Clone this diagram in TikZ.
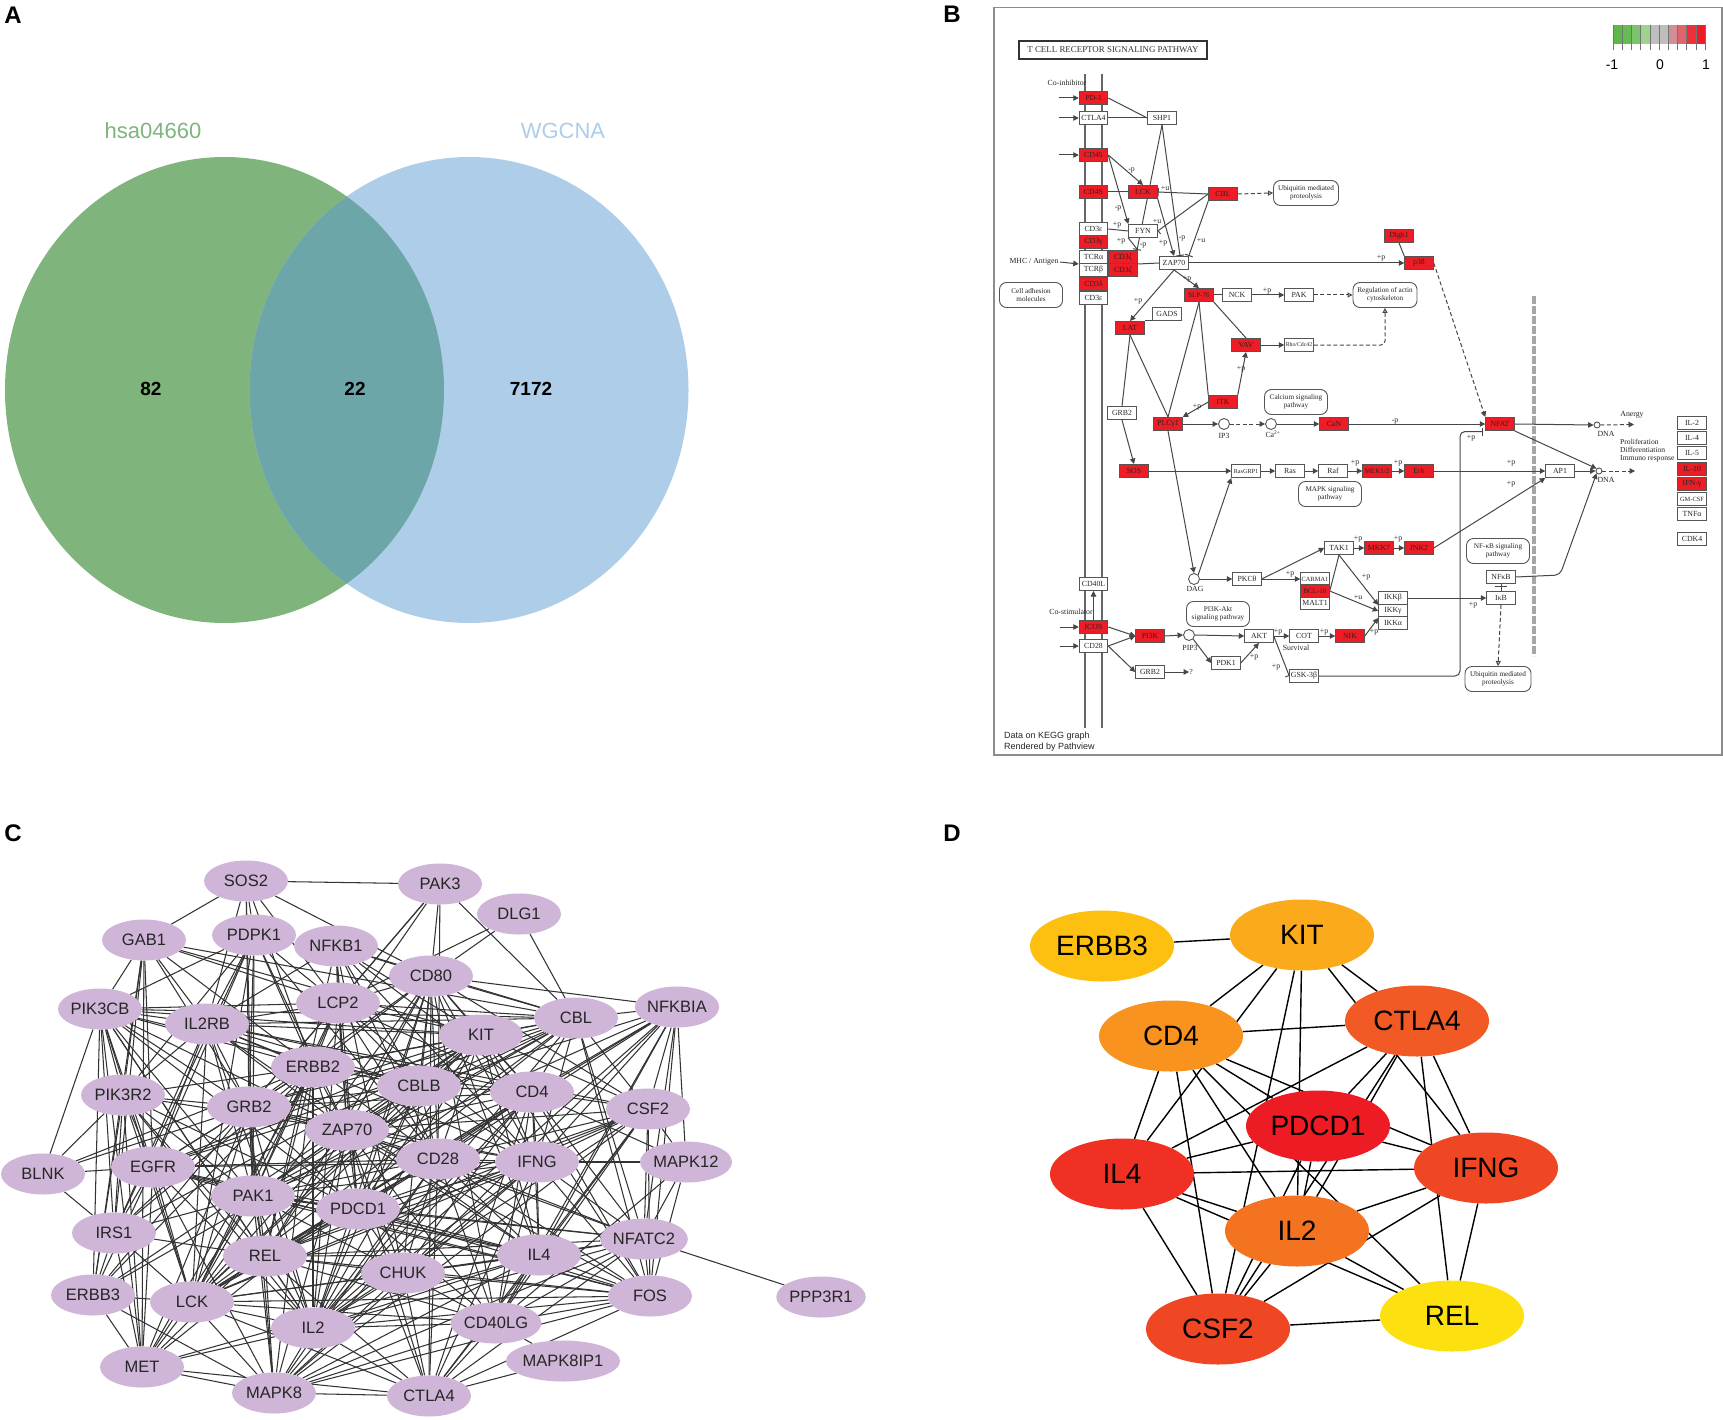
\documentclass[tikz,border=0pt]{standalone}
\usepackage{fontspec}
\setmainfont{Liberation Sans}
\newfontfamily\kfont{Liberation Serif}
\usetikzlibrary{arrows.meta,backgrounds,shapes.geometric}
\newcounter{lbn}
\newcommand\plab[2]{\stepcounter{lbn}\node[plabel] (lb\thelbn) at (#1) {#2};}
\definecolor{kgrey}{HTML}{555555}
\definecolor{kred}{HTML}{EE1C25}
\definecolor{cpink}{HTML}{CFB5D7}
\definecolor{vgreen}{HTML}{7FB47D}
\definecolor{vblue}{HTML}{AECDE9}
\definecolor{vmix}{HTML}{6CA6A8}
\definecolor{dA}{HTML}{FEC010}
\definecolor{dB}{HTML}{FBAA1C}
\definecolor{dC}{HTML}{F7931E}
\definecolor{dD}{HTML}{F15A24}
\definecolor{dE}{HTML}{ED1C24}
\definecolor{dF}{HTML}{EF4723}
\definecolor{dG}{HTML}{EF3023}
\definecolor{dH}{HTML}{F47320}
\definecolor{dI}{HTML}{FDE010}
\tikzset{
 panel/.style={font=\bfseries\fontsize{24}{24}\selectfont,inner sep=0pt},
 vlab/.style={font=\fontsize{22}{22}\selectfont,inner sep=0pt},
 vnum/.style={font=\bfseries\fontsize{19}{19}\selectfont,inner sep=0pt},
 knode/.style={draw=kgrey,fill=white,line width=1pt,minimum width=28.5pt,minimum height=13pt,inner sep=0pt,text=black!85,font=\kfont\fontsize{7.8}{7.8}\selectfont},
 kredn/.style={knode,fill=kred},
 kpath/.style={draw=kgrey,fill=white,line width=.9pt,rounded corners=7pt,minimum width=#1,minimum height=25pt,inner sep=0pt,align=center,text=black!85,font=\kfont\fontsize{7.2}{8}\selectfont},
 kcirc/.style={draw=kgrey,fill=white,line width=.9pt,circle,minimum size=#1,inner sep=0pt},
 plabel/.style={inner sep=0pt,text=black!85,font=\kfont\fontsize{7.8}{7.8}\selectfont},
 kline/.style={draw=black!72,line width=1pt},
 karrow/.style={kline,-{Triangle[length=5.5pt,width=5.5pt]}},
 kdash/.style={kline,dash pattern=on 4pt off 2.5pt,-{Triangle[length=5.5pt,width=5.5pt]}},
 kopen/.style={kline,dash pattern=on 4pt off 2.5pt,-{Triangle[open,fill=white,length=5pt,width=5pt]}},
 kbar/.style={kline,-{Bar[width=8pt]}},
 cnode/.style={ellipse,fill=cpink,minimum width=84pt,minimum height=41pt,inner sep=0pt,text=black!85,font=\fontsize{16.5}{16.5}\selectfont},
 cedge/.style={draw=black!80,line width=1.05pt},
 dnode/.style={ellipse,fill=#1,minimum width=144pt,minimum height=71pt,inner sep=0pt,font=\fontsize{28}{28}\selectfont},
 dedge/.style={draw=black,line width=1.4pt},
}
\begin{document}
\begin{tikzpicture}[x=1pt,y=-1pt]
\useasboundingbox (0,0) rectangle (1723,1420);
% panel letters
\node[panel] (pA) at (13,15) {A};
\node[panel] (pB) at (952,14) {B};
\node[panel] (pC) at (13,833) {C};
\node[panel] (pD) at (952,833) {D};
% ---------- A
\fill[vgreen] (224.5,390) ellipse [x radius=219.5,y radius=233];
\fill[vblue] (469,390) ellipse [x radius=219.5,y radius=233];
\begin{scope}
\clip (224.5,390) ellipse [x radius=219.5,y radius=233];
\fill[vmix] (469,390) ellipse [x radius=219.5,y radius=233];
\end{scope}
\node[vlab,text=vgreen] (vL) at (153,131) {hsa04660};
\node[vlab,text=vblue] (vR) at (563,131) {WGCNA};
\node[vnum] (n82) at (151,389) {82};
\node[vnum] (n22) at (355,389) {22};
\node[vnum] (n7172) at (531,389) {7172};
% ---------- B
\draw[draw=black!45,line width=1.6pt] (994,7.5) rectangle (1722,755);
\node[draw=black!80,line width=1.2pt,minimum width=188pt,minimum height=18pt,inner sep=0pt,font=\kfont\fontsize{8.9}{8.9}\selectfont,text=black!80] (ktitle) at (1113,50) {T CELL RECEPTOR SIGNALING PATHWAY};
\foreach \n/\x/\y/\t in {CTLA/1093.5/118/CTLA4,SHP/1162/118/SHP1,CDe/1093.5/229/CD3ε,FYN/1143/231/FYN,TCRa/1093.5/257/TCRα,TCRb/1093.5/270/TCRβ,ZAP/1174/263/ZAP70,CDeb/1093.5/298/CD3ε,NCK/1237/295/NCK,PAK/1299/295/PAK,GADS/1167/314/GADS,Rho/1299/345/{\fontsize{5.8}{6}\selectfont Rho/Cdc42},GRB/1122/413/GRB2,RasG/1246/471/{\fontsize{6.2}{6}\selectfont RasGRP1},Ras/1290/471/Ras,Raf/1333/471/Raf,TAK/1339/548/TAK1,PKC/1247/579/PKCθ,CARMA/1315/579/{\fontsize{6.4}{6}\selectfont CARMA1},MALT/1315/603/MALT1,CDL/1093.5/584/CD40L,CDt/1093.5/646/CD28,AKT/1259/636/AKT,COT/1304/636/COT,PDK/1226/663/PDK1,GRBb/1150/672/GRB2,GSK/1304/676/GSK-3β,IKKb/1393/598/IKKβ,IKKg/1393/611/IKKγ,IKKa/1393/623/IKKα,NFkB/1501/577/NFκB,IkB/1501/598/IκB,AP/1560/471/AP1,IL2/1692/423/IL-2,IL4/1692/438/IL-4,IL5/1692/453/IL-5,GM/1692/499/{\fontsize{6.4}{6}\selectfont GM-CSF},TNF/1692/514/TNFα,CDK/1692/539/CDK4}
  \node[knode] (k\n) at (\x,\y) {\t};
\foreach \n/\x/\y/\t in {PD/1093.5/98/PD-1,CDf/1093.5/155/CD45,CDs/1093.5/192/CD4S,LCK/1143/192/LCK,CBL/1223/194/CBL,CDg/1093.5/242/CD3γ,CDz/1123/257/CD3ζ,CDzb/1123/270/CD3ζ,CDd/1093.5/284/CD3δ,SLP/1199/295/{\fontsize{7}{7}\selectfont SLP-76},LAT/1130/328/LAT,VAV/1246/345/VAV,Dlg/1399/236/Dlgh1,p38/1419/263/p38,ITK/1223/402/ITK,PLC/1168/424/PLCγ1,CaN/1334/424/CaN,SOS/1134/471/SOS,MEK/1377/471/{\fontsize{7}{7}\selectfont MEK1/2},Erk/1419/471/Erk,MKK/1379/548/MKK7,JNK/1419/548/JNK2,BCL/1315/591/{\fontsize{7}{7}\selectfont BCL-10},ICOS/1093.5/627/ICOS,PIK/1150/636/PI3K,NIK/1350/636/NIK,NFAT/1500/424/NFAT,ILt/1692/469/IL-10,IFN/1692/484/IFN-γ}
  \node[kredn] (k\n) at (\x,\y) {\t};
\node[kpath=65pt] (kUb) at (1306,193) {Ubiquitin mediated\\proteolysis};
\node[kpath=63pt] (kCell) at (1031,295) {Cell adhesion\\molecules};
\node[kpath=64pt] (kReg) at (1385,295) {Regulation of actin\\cytoskeleton};
\node[kpath=63pt] (kCal) at (1296,402) {Calcium signaling\\pathway};
\node[kpath=63pt] (kMAPK) at (1330,494) {MAPK signaling\\pathway};
\node[kpath=63pt] (kPI) at (1218,614) {PI3K-Akt\\signaling pathway};
\node[kpath=63pt] (kNFp) at (1498,551) {NF-κB signaling\\pathway};
\node[kpath=66pt] (kUbb) at (1498,679) {Ubiquitin mediated\\proteolysis};
\node[kcirc=11pt] (kIP) at (1224,424) {};
\node[kcirc=11pt] (kCa) at (1271,424) {};
\node[kcirc=11pt] (kDAG) at (1194,579) {};
\node[kcirc=11pt] (kPIP) at (1189,635) {};
\node[kcirc=6pt] (kDNAa) at (1597,425) {};
\node[kcirc=6pt] (kDNAb) at (1599,471) {};
\coordinate (iPD) at (1059,98); \coordinate (iCT) at (1059,118); \coordinate (iCF) at (1059,155);
\coordinate (iMHC) at (1060,262); \coordinate (iIC) at (1060,627); \coordinate (iCD) at (1060,646);
\coordinate (oAn) at (1634,424.5); \coordinate (oPr) at (1635,471);
\node[plabel] (kq) at (1191,672) {?};
\plab{1067,83}{Co-inhibitor}
\plab{1071,612}{Co-stimulator}
\plab{1034,262}{MHC / Antigen}
\plab{1224,436}{IP3}
\plab{1273,434.5}{Ca\textsuperscript{2+}}
\plab{1195,589}{DAG}
\plab{1190,648}{PIP3}
\plab{1296,648}{Survival}
\plab{1606,434}{DNA}
\plab{1606,480}{DNA}
\plab{1632,415}{Anergy}
\node[plabel,align=left,anchor=west,font=\kfont\fontsize{7.6}{8.1}\selectfont] (kPro) at (1620,451) {Proliferation\\Differentiation\\Immuno response};
\plab{1131.5,170}{-p}\plab{1118,208}{-p}\plab{1165,188.5}{+u}\plab{1117,225}{+p}\plab{1121,241}{+p}\plab{1157,221}{+u}\plab{1143,245}{-p}\plab{1163,243}{+p}\plab{1182,238}{-p}\plab{1201,240}{+u}\plab{1187,279}{+p}\plab{1138,301}{+p}\plab{1267,291}{+p}\plab{1241,369}{+p}\plab{1381,258}{+p}\plab{1197,407}{+p}\plab{1395,421}{-p}\plab{1355,463}{+p}\plab{1398,463}{+p}\plab{1511,463}{+p}\plab{1511,484}{+p}\plab{1290,574}{+p}\plab{1358,539}{+p}\plab{1398,539}{+p}\plab{1366,577}{+p}\plab{1358,597}{+u}\plab{1374,632}{+p}\plab{1278,632}{+p}\plab{1324,632}{+p}\plab{1254,657}{+p}\plab{1276,667}{+p}\plab{1473,605}{+p}\plab{1471,438}{+p}
% legend
\foreach \i/\c in {0/5CB947,1/66BC52,2/7CC46A,3/A0D190,4/BEBEBE,5/BEBEBE,6/CF8F94,7/E0646C,8/EF3039,9/EE1C25}{
  \definecolor{lg}{HTML}{\c}
  \fill[lg] ({1613+\i*9.2},25) rectangle ({1613+(\i+1)*9.2},44);
  \draw[black!55,line width=.6pt] ({1613+\i*9.2},25) -- ({1613+\i*9.2},50);
}
\draw[black!55,line width=.6pt] (1705,25) -- (1705,50);
\node[inner sep=0pt,font=\fontsize{14}{14}\selectfont] (lgA) at (1612,65) {-1};
\node[inner sep=0pt,font=\fontsize{14}{14}\selectfont] (lgB) at (1660,65) {0};
\node[inner sep=0pt,font=\fontsize{14}{14}\selectfont] (lgC) at (1706,65) {1};
\node[inner sep=0pt,anchor=west,align=left,font=\fontsize{9}{11}\selectfont,text=black!85] (kFoot) at (1004,741.5) {Data on KEGG graph\\Rendered by Pathview};
\begin{pgfonlayer}{background}
\fill[white] (0,0) rectangle (1723,1420);
\coordinate (mAt) at (1084.7,74); \coordinate (mAb) at (1084.7,728);
\coordinate (mBt) at (1102.3,74); \coordinate (mBb) at (1102.3,728);
\draw[black!60,line width=2pt] (mAt) -- (mAb);
\draw[black!60,line width=2pt] (mBt) -- (mBb);
\coordinate (vdT) at (1534,296); \coordinate (vdB) at (1534,656);
\draw[black!35,line width=3.4pt,dash pattern=on 8pt off 2pt] (vdT) -- (vdB);
\draw[karrow] (iPD) -- (kPD.west);
\draw[karrow] (iCT) -- (kCTLA.west);
\draw[karrow] (iCF) -- (kCDf.west);
\draw[karrow] (iMHC) -- (kTCRa.south west);
\draw[karrow] (iIC) -- (kICOS.west);
\draw[karrow] (iCD) -- (kCDt.west);
\draw[kline] (kPD.east) -- (kSHP.west);
\draw[kline] (kCTLA.east) -- (kSHP.west);
\coordinate (tZ) at (1137,250); \coordinate (tA) at (1180,256);
\draw[kbar] (kSHP.south) -- (tZ);
\draw[kbar] (kSHP.south) -- (tA);
\draw[karrow] (kCDf.east) -- (kLCK.north);
\draw[karrow] (kCDf.east) -- (kFYN.north west);
\draw[kline] (kCDs.east) -- (kLCK.west);
\draw[kbar] (kCBL.west) -- (kLCK.east);
\draw[karrow] (kLCK.south east) -- (kZAP.north);
\draw[kbar] (kCBL.west) -- (kFYN.east);
\draw[kopen] (kCBL.east) -- (kUb.west);
\draw[kline] (kCDe.east) -- (kFYN.west);
\draw[kline] (kFYN.south west) -- (kCDz.north east);
\draw[kbar] (kCBL.south west) -- (kZAP.north east);
\draw[kline] (kCDz.south east) -- (kZAP.west);
\draw[karrow] (kZAP.east) -- (kp38.west);
\draw[karrow] (kZAP.south) -- (kSLP.north);
\draw[karrow] (kZAP.south) -- (kLAT.north);
\draw[kline] (kGADS.south west) -- (kLAT.north east);
\draw[kline] (kSLP.east) -- (kNCK.west);
\draw[karrow] (kNCK.east) -- (kPAK.west);
\draw[kopen] (kPAK.east) -- (kReg.west);
\draw[kline] (kSLP.south east) -- (kVAV.north);
\draw[kline] (kSLP.south) -- (kPLC.north);
\draw[kline] (kSLP.south) -- (kITK.north west);
\draw[karrow] (kITK.north east) -- (kVAV.south);
\draw[karrow] (kVAV.east) -- (kRho.west);
\draw[kopen,rounded corners=4pt] (kRho.east) -- (1385,345) -- (kReg.south);
\draw[kline] (kLAT.south) -- (kPLC.north);
\draw[kline] (kLAT.south) -- (kGRB.north);
\draw[karrow] (kGRB.south) -- (kSOS.north);
\draw[karrow] (kITK.west) -- (kPLC.north east);
\draw[karrow] (kPLC.east) -- (kIP.west);
\draw[kdash] (kIP.east) -- (kCa.west);
\draw[karrow] (kCa.east) -- (kCaN.west);
\draw[karrow] (kCaN.east) -- (kNFAT.west);
\draw[karrow] (kPLC.south) -- (kDAG.north);
\draw[karrow] (kDAG.north east) -- (kRasG.south west);
\draw[karrow] (kSOS.east) -- (kRasG.west);
\draw[karrow] (kRasG.east) -- (kRas.west);
\draw[karrow] (kRas.east) -- (kRaf.west);
\draw[karrow] (kRaf.east) -- (kMEK.west);
\draw[karrow] (kMEK.east) -- (kErk.west);
\draw[karrow] (kErk.east) -- (kAP.west);
\draw[karrow] (kJNK.east) -- (kAP.south west);
\draw[karrow] (kAP.east) -- (kDNAb.west);
\draw[karrow] (kNFAT.east) -- (kDNAa.west);
\draw[karrow] (kNFAT.south east) -- (kDNAb.north west);
\draw[karrow,rounded corners=5pt] (kNFkB.east) -- (1560,575) -- (kDNAb.south west);
\draw[kdash] (kDNAa.east) -- (oAn);
\draw[kdash] (kDNAb.east) -- (oPr);
\draw[kline] (kDlg.south) -- (kp38.north west);
\draw[kdash] (kp38.east) -- (kNFAT.north west);
\draw[karrow] (kDAG.east) -- (kPKC.west);
\draw[karrow] (kPKC.east) -- (kTAK.west);
\draw[karrow] (kPKC.east) -- (kCARMA.west);
\draw[karrow] (kTAK.east) -- (kMKK.west);
\draw[karrow] (kMKK.east) -- (kJNK.west);
\draw[kline] (kTAK.south) -- (kBCL.east);
\draw[karrow] (kTAK.south) -- (kIKKb.south west);
\draw[karrow] (kBCL.east) -- (kIKKg.west);
\draw[karrow] (kNIK.east) -- (kIKKg.south west);
\draw[karrow] (kIKKb.east) -- (kIkB.west);
\draw[kline] (kNFkB.south) -- (kIkB.north);
\coordinate (xA) at (1495,586.5); \coordinate (xB) at (1507,586.5);
\draw[kline] (xA) -- (xB);
\draw[kopen] (kIkB.south) -- (kUbb.north);
\draw[kbar,rounded corners=5pt] (kGSK.east) -- (1460,676) -- (1460,431.5) -- (1483,431.5);
\draw[kbar] (kAKT.east) -- (kGSK.west);
\draw[karrow] (kAKT.east) -- (kCOT.west);
\draw[karrow] (kCOT.east) -- (kNIK.west);
\draw[karrow] (kPIP.east) -- (kAKT.west);
\draw[karrow] (kPIP.south east) -- (kPDK.west);
\draw[karrow] (kPDK.east) -- (kAKT.south);
\draw[karrow] (kPIK.east) -- (kPIP.west);
\draw[karrow] (kICOS.east) -- (kPIK.west);
\draw[karrow] (kCDt.east) -- (kPIK.west);
\draw[karrow] (kCDt.east) -- (kGRBb.west);
\draw[karrow] (kGRBb.east) -- (kq.west);
\draw[karrow] (kICOS.north) -- (kCDL.south);
\end{pgfonlayer}
% ---------- C
\foreach \n/\x/\y in {SOS2/246/881,PAK3/440/884,DLG1/519/914,GAB1/144/940,PDPK1/254/935,NFKB1/336/946,CD80/431/976,LCP2/338/1003,PIK3CB/100/1009,IL2RB/207/1024,KIT/481/1035,CBL/576/1018,NFKBIA/677/1007,ERBB2/313/1067,CBLB/419/1086,CD4/532/1092,CSF2/648/1109,PIK3R2/123/1095,GRB2/249/1107,ZAP70/347/1130,CD28/438/1159,IFNG/537/1162,MAPK12/686/1162,BLNK/43/1174,EGFR/153/1167,PAK1/253/1196,PDCD1/358/1209,IRS1/114/1233,NFATC2/644/1239,REL/265/1256,CHUK/403/1273,IL4/539/1255,ERBB3/93/1295,LCK/192/1302,FOS/650/1296,PPP3R1/821/1297,IL2/313/1328,CD40LG/496/1323,MET/142/1367,MAPK8/274/1393,CTLA4/429/1396,MAPK8IP1/563/1361}
  \node[cnode] (c\n) at (\x,\y) {\n};
\begin{pgfonlayer}{background}
\foreach \a/\l in {
SOS2/{PAK3,GAB1,PDPK1,IL2RB,GRB2,ERBB2,CD80,LCP2,PAK1},
PAK3/{CD80,CBL,LCP2,ERBB2,GRB2,CD28},
DLG1/{CD80,CBL,LCP2},
GAB1/{PIK3CB,PIK3R2,IRS1,MET,ERBB3,EGFR,GRB2,IL2RB,ERBB2,KIT,LCP2,CBL},
PDPK1/{PIK3CB,IL2RB,PIK3R2,EGFR,GRB2,PAK1,ERBB2,LCK,IRS1,LCP2,ZAP70,CD28},
NFKB1/{LCP2,CBLB,CD80,ZAP70,IL2RB,CD4,IFNG,REL,CD28,CHUK,KIT,PDCD1,CBL},
CD80/{LCP2,NFKBIA,KIT,CBL,CD28,CTLA4,CD4,IFNG,IL4,IL2,PDCD1,ZAP70,LCK,CD40LG,CSF2,ERBB2,GRB2,CBLB,CHUK,REL},
LCP2/{PIK3CB,IL2RB,ZAP70,LCK,GRB2,CD28,CBL,KIT,CBLB,ERBB2,CD4,PAK1,PDCD1,IL2,IFNG},
PIK3CB/{IL2RB,PIK3R2,GRB2,EGFR,IRS1,ERBB2,ERBB3,MET,BLNK,KIT,CBL,LCK,CBLB,ZAP70,PAK1,PDCD1,REL,IL2},
IL2RB/{PIK3R2,GRB2,IL4,IL2,LCK,ZAP70,ERBB2,EGFR,PAK1,IRS1,KIT,CBL,CBLB,CSF2,IFNG,CD4},
KIT/{CBL,ERBB2,GRB2,CD4,CBLB,IFNG,EGFR,IL4,IL2,MET,IRS1,ERBB3,PDCD1,ZAP70,FOS,CSF2,LCK,PAK1,CD28},
CBL/{NFKBIA,CD4,CBLB,CSF2,EGFR,ERBB2,GRB2,IFNG,ZAP70,LCK,MET,PAK1,FOS,ERBB3,NFATC2,IL2},
NFKBIA/{CD4,CSF2,MAPK12,NFATC2,IL4,CD28,FOS,REL,CHUK,IFNG,CBLB,IL2,PAK1,CD40LG},
ERBB2/{CBLB,GRB2,ZAP70,EGFR,CD4,PIK3R2,BLNK,IRS1,PAK1,ERBB3,MET,LCK,CD28,IL2,PDCD1,REL,MAPK8},
CBLB/{GRB2,ZAP70,CD4,CD28,LCK,EGFR,IFNG,PAK1,IL2,PDCD1},
CD4/{CSF2,CD28,IFNG,IL4,IL2,ZAP70,GRB2,LCK,PDCD1,CD40LG,CTLA4,FOS,NFATC2,MAPK12,MAPK8,REL,PAK1,CHUK},
CSF2/{MAPK12,NFATC2,IFNG,IL4,CD28,FOS,IL2,CD40LG,PDCD1,ZAP70,LCK,MAPK8,CTLA4,REL},
PIK3R2/{GRB2,EGFR,BLNK,IRS1,MET,ERBB3,LCK,PAK1,ZAP70,REL,IL2,PDCD1},
GRB2/{ZAP70,CD28,EGFR,PAK1,IRS1,BLNK,MET,ERBB3,LCK,IL2,MAPK8,REL,PDCD1,IFNG},
ZAP70/{CD28,LCK,PAK1,PDCD1,IFNG,IL2,IL4,CTLA4,CHUK,REL,MAPK8,FOS,NFATC2,CD40LG},
CD28/{IFNG,PDCD1,CTLA4,IL2,IL4,LCK,PAK1,CD40LG,REL,CHUK,FOS,NFATC2,MAPK8,EGFR},
IFNG/{MAPK12,NFATC2,IL4,IL2,PDCD1,FOS,CTLA4,CD40LG,REL,CHUK,MAPK8,LCK,PAK1,EGFR},
MAPK12/{NFATC2,FOS,CD40LG},
BLNK/{IRS1,EGFR},
EGFR/{PAK1,IRS1,ERBB3,MET,LCK,MAPK8,PDCD1,IL2,IL4,FOS},
PAK1/{PDCD1,IRS1,REL,LCK,MAPK8,IL2,CHUK,IL4,FOS,NFATC2,MET},
PDCD1/{IL2,IL4,CTLA4,LCK,REL,FOS,CD40LG,NFATC2,CHUK},
IRS1/{MET,ERBB3,LCK,REL},
NFATC2/{IL4,FOS,PPP3R1,CHUK,REL,IL2,CTLA4,MAPK8,CD40LG},
REL/{CHUK,IL4,LCK,IL2,MAPK8,CD40LG,FOS,CTLA4},
CHUK/{IL4,MAPK8,CTLA4,CD40LG,FOS,IL2,LCK},
IL4/{FOS,IL2,CD40LG,CTLA4,MAPK8,LCK,MET},
ERBB3/{MET,MAPK8,LCK},
LCK/{IL2,MET,MAPK8,FOS,CD40LG,CTLA4},
FOS/{CD40LG,CTLA4,IL2,MAPK8},
IL2/{CD40LG,CTLA4,MAPK8,MET},
CD40LG/{CTLA4,MAPK8,MAPK8IP1},
MET/{MAPK8,CTLA4},
MAPK8/{CTLA4},
CTLA4/{MAPK8IP1}}{
  \foreach \b in \l { \draw[cedge] (c\a) -- (c\b); }
}
\end{pgfonlayer}
% ---------- D
\node[dnode=dA] (dERBB3) at (1102,946) {ERBB3};
\node[dnode=dB] (dKIT) at (1302,935) {KIT};
\node[dnode=dC] (dCD4) at (1171,1036) {CD4};
\node[dnode=dD] (dCTLA4) at (1417,1021) {CTLA4};
\node[dnode=dE] (dPDCD1) at (1318,1126) {PDCD1};
\node[dnode=dF] (dIFNG) at (1486,1168) {IFNG};
\node[dnode=dG] (dIL4) at (1122,1174) {IL4};
\node[dnode=dH] (dIL2) at (1297,1231) {IL2};
\node[dnode=dF] (dCSF2) at (1218,1329) {CSF2};
\node[dnode=dI] (dREL) at (1452,1316) {REL};
\begin{pgfonlayer}{background}
\foreach \a/\l in {ERBB3/{KIT},KIT/{CD4,IL4,CSF2,IL2,CTLA4,IFNG},CD4/{CTLA4,IL4,CSF2,IL2,PDCD1,IFNG,REL},CTLA4/{IL4,PDCD1,IL2,CSF2,IFNG,REL},PDCD1/{IFNG,IL4,IL2,CSF2},IFNG/{IL4,IL2,CSF2,REL},IL4/{IL2,REL,CSF2},IL2/{CSF2,REL},CSF2/{REL}}{
  \foreach \b in \l { \draw[dedge] (d\a) -- (d\b); }
}
\end{pgfonlayer}
\end{tikzpicture}
\end{document}
